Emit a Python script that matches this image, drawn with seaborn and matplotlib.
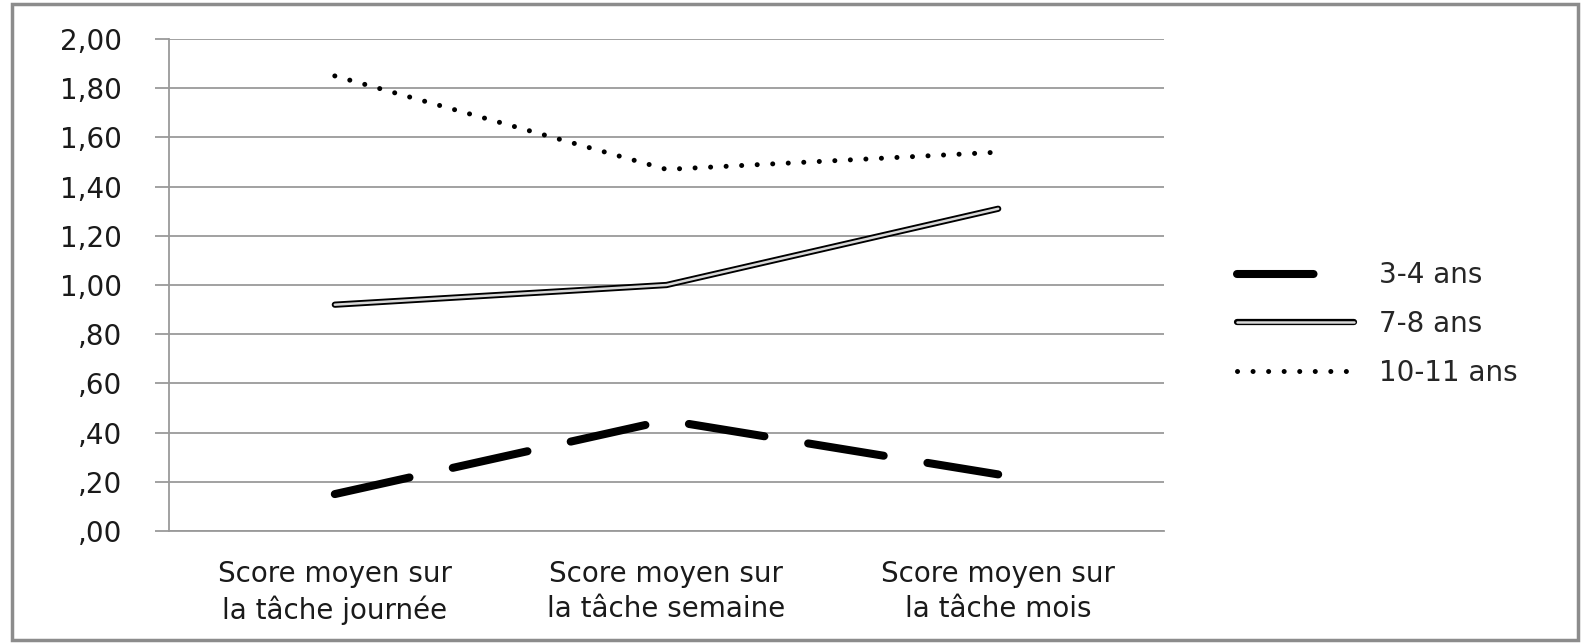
import numpy as np
import pandas as pd
import matplotlib
matplotlib.use("Agg")
import matplotlib.pyplot as plt
import matplotlib.patheffects as pe
from matplotlib.patches import Rectangle
import seaborn as sns

taches = ["Score moyen sur\nla tâche journée",
          "Score moyen sur\nla tâche semaine",
          "Score moyen sur\nla tâche mois"]
ans_3_4 = [0.15, 0.45, 0.23]
ans_7_8 = [0.92, 1.00, 1.31]
ans_10_11 = [1.85, 1.47, 1.54]
groupes = ["3-4 ans", "7-8 ans", "10-11 ans"]
yticks = np.arange(0, 2.01, 0.2)
ylabels = ["2,00" if v >= 1.99 else ("1,%02d" % round((v - 1) * 100) if v >= 0.999 else ",%02d" % round(v * 100))
           for v in yticks]

sns.set_style("white")
plt.rcParams['font.family'] = ['DejaVu Sans']
FS = 20

df = pd.DataFrame({
    "pos": list(range(len(taches))) * 3,
    "score": ans_3_4 + ans_7_8 + ans_10_11,
    "groupe": np.repeat(groupes, len(taches)),
})

fig = plt.figure(figsize=(15.82, 6.43), dpi=100)
ax = fig.add_axes([0.1068, 0.1742, 0.6290, 0.7651])

grid_c = "#9a9a9a"
for y in yticks:
    ax.axhline(y, color=grid_c, lw=1.3, zorder=0)

# 3-4 ans : thick dashed
sns.lineplot(data=df[df.groupe == "3-4 ans"], x="pos", y="score", ax=ax,
             color="black", lw=5.8, label="3-4 ans", sort=False)
l1 = ax.lines[-1]
l1.set_linestyle((0, (9.5, 5.5)))
l1.set_dash_capstyle("round")
l1.set_solid_capstyle("round")

# 7-8 ans : double line
sns.lineplot(data=df[df.groupe == "7-8 ans"], x="pos", y="score", ax=ax,
             color="#d8d8d8", lw=1.8, label="7-8 ans", sort=False)
l2 = ax.lines[-1]
l2.set_solid_capstyle("round")
l2.set_path_effects([pe.Stroke(linewidth=4.5, foreground="black", capstyle="round"), pe.Normal()])

# 10-11 ans : dotted
sns.lineplot(data=df[df.groupe == "10-11 ans"], x="pos", y="score", ax=ax,
             color="black", lw=3.6, label="10-11 ans", sort=False)
l3 = ax.lines[-1]
l3.set_linestyle((0, (0.01, 3.1)))
l3.set_dash_capstyle("round")

ax.set_xlim(-0.5, len(taches) - 0.5)
ax.set_ylim(0, 2.0)
ax.set_yticks(yticks)
ax.set_yticklabels(ylabels, fontsize=FS)
ax.set_xticks(range(len(taches)))
ax.set_xticklabels(taches, fontsize=FS, linespacing=1.3)
ax.set_xticks(np.arange(-0.5, len(taches)), minor=True)
ax.tick_params(axis="x", which="major", length=0, pad=21, colors="#1a1a1a")
ax.tick_params(axis="x", which="minor", length=10, width=1.3, color=grid_c)
ax.tick_params(axis="y", length=10, width=1.3, color=grid_c, pad=24, colors="#1a1a1a", left=True)
ax.tick_params(axis="y", which="major", color=grid_c)
ax.set_xlabel("")
ax.set_ylabel("")
for s in ["top", "right"]:
    ax.spines[s].set_visible(False)
ax.spines["left"].set_color(grid_c)
ax.spines["bottom"].set_color(grid_c)
ax.spines["left"].set_linewidth(1.3)
ax.spines["bottom"].set_linewidth(1.3)

handles, labels = ax.get_legend_handles_labels()
leg = ax.legend(handles, labels, loc="center left", bbox_to_anchor=(0.775, 0.496),
                bbox_transform=fig.transFigure, frameon=False, fontsize=FS,
                handlelength=4.2, handletextpad=0.9, labelspacing=0.75, borderaxespad=0)

fig.patches.append(Rectangle((12 / 1582, 3 / 643), 1566 / 1582, 636 / 643,
                             transform=fig.transFigure, fill=False,
                             edgecolor="#8c8c8c", lw=2.5))

fig.savefig("out.png", dpi=100)
